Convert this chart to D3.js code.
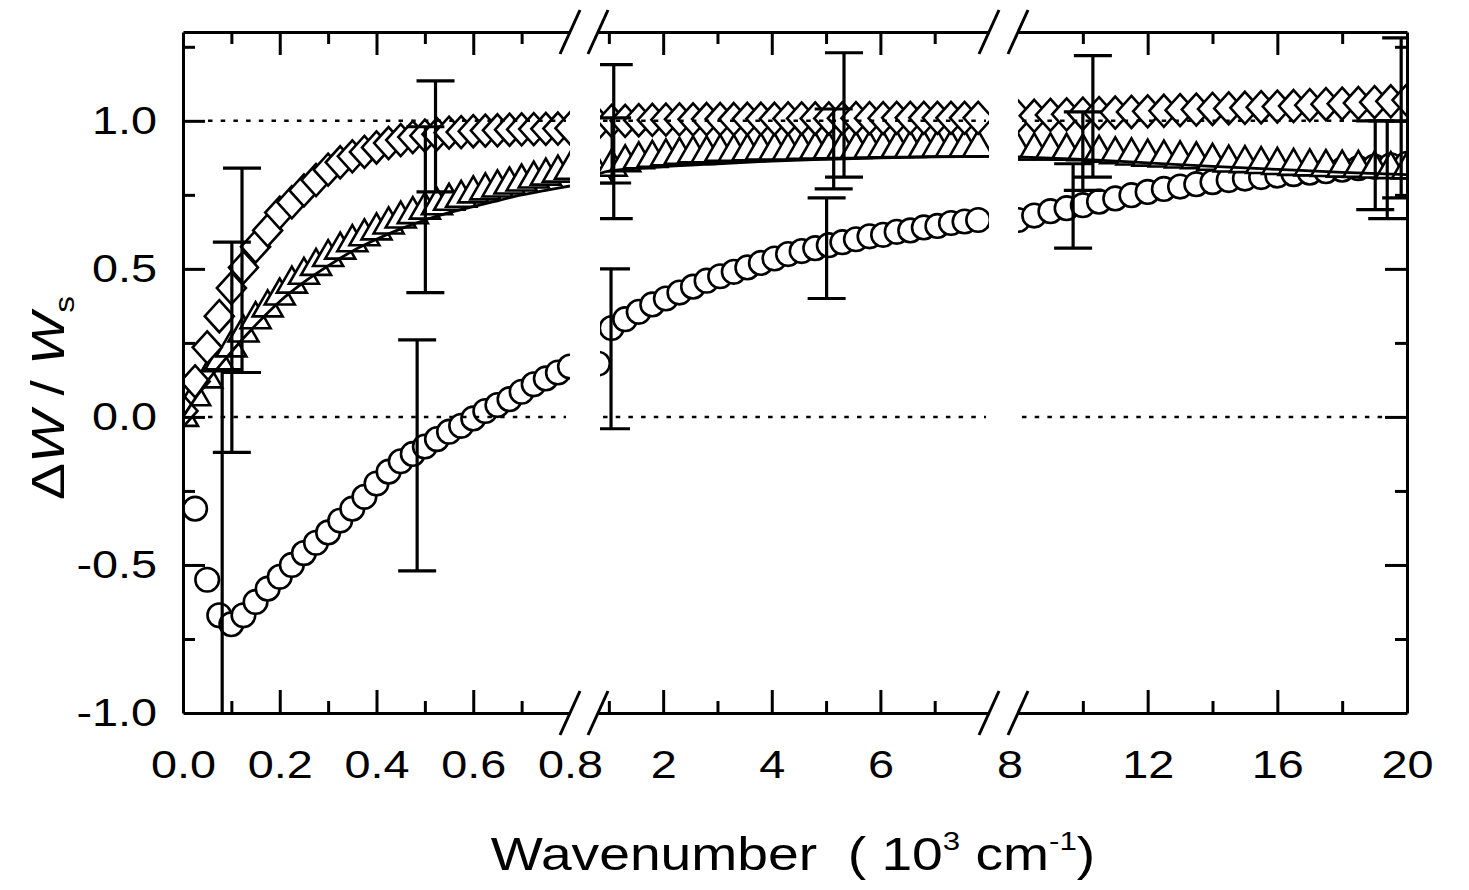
<!DOCTYPE html>
<html lang="en">
<head>
<meta charset="UTF-8">
<title>Wavenumber</title>
<script src="https://d3js.org/d3.v7.min.js"></script>
<style>
  body { margin: 0; padding: 0; background: #fff; }
  text { font-family: "Liberation Sans", Arial, sans-serif; fill: #000; white-space: pre; }
</style>
</head>
<body>
<script>
// ---- data (wavenumber in 10^3 cm^-1, value = dW / Ws) ----
const p1X = [0, 0.025, 0.05, 0.075, 0.1, 0.125, 0.15, 0.175, 0.2, 0.225, 0.25, 0.275, 0.3, 0.325, 0.35, 0.375,
  0.4, 0.425, 0.45, 0.475, 0.5, 0.525, 0.55, 0.575, 0.6, 0.625, 0.65, 0.675, 0.7, 0.725, 0.75, 0.775, 0.8]
const p1Circle = [null, -0.31, -0.55, -0.67, -0.70, -0.67, -0.625, -0.58, -0.54, -0.50, -0.46, -0.425, -0.39, -0.35,
  -0.31, -0.27, -0.225, -0.185, -0.15, -0.125, -0.10, -0.075, -0.05, -0.03, -0.005, 0.02, 0.04, 0.06, 0.085, 0.11,
  0.13, 0.15, 0.17]
const p1Tri = [0.0, 0.07, 0.13, 0.185, 0.235, 0.285, 0.33, 0.37, 0.41, 0.45, 0.48, 0.51, 0.54, 0.565, 0.59, 0.61,
  0.63, 0.65, 0.67, 0.685, 0.70, 0.715, 0.73, 0.74, 0.755, 0.765, 0.775, 0.785, 0.795, 0.805, 0.815, 0.825, 0.835]
const p1Dia = [0.02, 0.12, 0.235, 0.34, 0.435, 0.505, 0.575, 0.63, 0.69, 0.725, 0.765, 0.80, 0.835, 0.86, 0.88, 0.895,
  0.91, 0.925, 0.935, 0.945, 0.95, 0.955, 0.96, 0.962, 0.965, 0.967, 0.968, 0.97, 0.971, 0.972, 0.973, 0.974, 0.975]

const p2X = [0.8, 1.05, 1.3, 1.55, 1.8, 2.05, 2.3, 2.55, 2.8, 3.05, 3.3, 3.55, 3.8, 4.05, 4.3, 4.55, 4.8, 5.05,
  5.3, 5.55, 5.8, 6.05, 6.3, 6.55, 6.8, 7.05, 7.3, 7.55, 7.8]
const p2Circle = [0.18, 0.30, 0.33, 0.355, 0.38, 0.40, 0.42, 0.44, 0.46, 0.475, 0.49, 0.505, 0.52, 0.535, 0.55,
  0.56, 0.57, 0.58, 0.59, 0.60, 0.61, 0.615, 0.625, 0.63, 0.64, 0.645, 0.655, 0.66, 0.665]
const p2Tri = [0.82, 0.845, 0.86, 0.87, 0.875, 0.88, 0.885, 0.89, 0.89, 0.895, 0.895, 0.897, 0.9, 0.9, 0.9, 0.902,
  0.903, 0.904, 0.905, 0.905, 0.906, 0.907, 0.908, 0.908, 0.909, 0.91, 0.91, 0.91, 0.91]
const p2Dia = [0.99, 1.0, 1.0, 1.002, 1.003, 1.004, 1.005, 1.005, 1.006, 1.006, 1.006, 1.007, 1.007, 1.007, 1.008,
  1.008, 1.008, 1.008, 1.009, 1.009, 1.009, 1.009, 1.01, 1.01, 1.01, 1.01, 1.01, 1.01, 1.01]

const p3X = [8, 8.5, 9, 9.5, 10, 10.5, 11, 11.5, 12, 12.5, 13, 13.5, 14, 14.5, 15, 15.5, 16, 16.5, 17, 17.5, 18,
  18.5, 19, 19.5, 20]
const p3Circle = [0.665, 0.68, 0.695, 0.705, 0.715, 0.727, 0.738, 0.749, 0.76, 0.77, 0.778, 0.786, 0.793, 0.80,
  0.805, 0.81, 0.815, 0.82, 0.825, 0.83, 0.835, 0.84, 0.845, 0.85, 0.855]
const p3Tri = [0.90, 0.90, 0.90, 0.899, 0.897, 0.892, 0.887, 0.883, 0.879, 0.876, 0.873, 0.870, 0.865, 0.859, 0.857,
  0.854, 0.851, 0.848, 0.846, 0.844, 0.842, 0.841, 0.839, 0.837, 0.836]
const p3Dia = [1.015, 1.017, 1.02, 1.022, 1.024, 1.026, 1.028, 1.03, 1.032, 1.034, 1.036, 1.038, 1.04, 1.042, 1.044,
  1.046, 1.048, 1.05, 1.053, 1.056, 1.058, 1.06, 1.063, 1.066, 1.07]

// model curve drawn along the triangle series
const fit1X = [0, 0.05, 0.1, 0.15, 0.2, 0.25, 0.3, 0.35, 0.4, 0.45, 0.5, 0.55, 0.6, 0.65, 0.7, 0.75, 0.8]
const fit1Y = [0, 0.12, 0.22, 0.31, 0.39, 0.455, 0.51, 0.56, 0.60, 0.635, 0.665, 0.69, 0.71, 0.73, 0.75, 0.765, 0.78]
const fit2X = [0.8, 1, 2, 3, 4, 5, 6, 7, 8]
const fit2Y = [0.82, 0.83, 0.845, 0.855, 0.864, 0.87, 0.875, 0.878, 0.88]
const fit3X = [8, 10, 12, 14, 16, 18, 20]
const fit3Y = [0.878, 0.87, 0.858, 0.846, 0.836, 0.826, 0.818]

// error bars: x, low, high
const bars1 = [[0.081, -1.5, 0.16], [0.101, -0.12, 0.59], [0.122, 0.15, 0.84],
  [0.484, -0.52, 0.26], [0.501, 0.42, 0.98], [0.522, 0.76, 1.135]]
const bars2 = [[1.04, -0.04, 0.50], [1.06, 0.79, 1.01], [1.09, 0.67, 1.19],
  [5.01, 0.40, 0.74], [5.14, 0.77, 1.04], [5.33, 0.81, 1.23]]
const bars3 = [[9.7, 0.57, 0.855], [10.0, 0.765, 1.03], [10.31, 0.81, 1.22],
  [19.02, 0.70, 1.0], [19.39, 0.67, 1.0], [19.82, 0.74, 1.28]]

// ticks
const yLabelVals = [-1, -0.5, 0, 0.5, 1]
const yMajor = [-0.5, 0, 0.5, 1]
const yMinor = [-0.75, -0.25, 0.25, 0.75, 1.25]
const refLines = [0, 1]

const p1Labels = [0, 0.2, 0.4, 0.6, 0.8]
const p1Major = [0.2, 0.4, 0.6]
const p1Minor = [0.1, 0.3, 0.5, 0.7]
const p2Labels = [2, 4, 6]
const p2Major = [2, 4, 6]
const p2Minor = [1, 3, 5, 7]
const p3Labels = [8, 12, 16, 20]
const p3Major = [12, 16]
const p3Minor = [10, 14, 18]

// ---- layout ----
let width = 1469
let height = 890
let plotTop = 32
let plotBottom = 713
let plotLeft = 183
let plotRight = 1407
let stretch = 1.2   // the lettering in the figure is wider than Arial

let svg = d3.select("body")
  .append("svg")
  .attr("width", width)
  .attr("height", height)

let y = d3.scaleLinear().domain([-1, 1.3]).range([plotBottom, plotTop])

let panels = [
  { x: d3.scaleLinear().domain([0, 0.8]).range([plotLeft, 570]), clipL: plotLeft, clipR: 570,
    dotL: 208, dotR: 566,
    xs: p1X, circle: p1Circle, tri: p1Tri, dia: p1Dia, fitX: fit1X, fitY: fit1Y, bars: bars1,
    labels: p1Labels, major: p1Major, minor: p1Minor, fmt: d => d.toFixed(1) },
  { x: d3.scaleLinear().domain([0.8, 8]).range([598, 989]), clipL: 600, clipR: 989,
    dotL: 603, dotR: 986,
    xs: p2X, circle: p2Circle, tri: p2Tri, dia: p2Dia, fitX: fit2X, fitY: fit2Y, bars: bars2,
    labels: p2Labels, major: p2Major, minor: p2Minor, fmt: d => d },
  { x: d3.scaleLinear().domain([8, 20]).range([1018, plotRight]), clipL: 1018, clipR: plotRight,
    dotL: 1022, dotR: 1384,
    xs: p3X, circle: p3Circle, tri: p3Tri, dia: p3Dia, fitX: fit3X, fitY: fit3Y, bars: bars3,
    labels: p3Labels, major: p3Major, minor: p3Minor, fmt: d => d }
]

// marker shapes (white filled, black outline)
const circlePath = d3.symbol().type(d3.symbolCircle).size(Math.PI * 11.8 * 11.8)()
const triPath = "M0,-17L-15,9L15,9Z"
const diaPath = "M0,-16L14.5,0L0,16L-14.5,0Z"

let defs = svg.append("defs")

panels.forEach((p, i) => {
  defs.append("clipPath")
    .attr("id", "clip" + i)
    .append("rect")
    .attr("x", p.clipL)
    .attr("y", plotTop)
    .attr("width", p.clipR - p.clipL)
    .attr("height", plotBottom - plotTop)

  let g = svg.append("g").attr("clip-path", "url(#clip" + i + ")")

  // markers, drawn left to right so later ones cover earlier ones
  let series = [[p.circle, circlePath], [p.tri, triPath], [p.dia, diaPath]]
  series.forEach(s => {
    g.append("g")
      .selectAll("path")
      .data(p.xs.map((v, k) => [v, s[0][k]]).filter(d => d[1] != null))
      .join("path")
      .attr("d", s[1])
      .attr("transform", d => "translate(" + p.x(d[0]) + "," + y(d[1]) + ")")
      .attr("fill", "white")
      .attr("stroke", "black")
      .attr("stroke-width", 2.6)
  })

  // model curve
  g.append("path")
    .datum(p.fitX.map((v, k) => [v, p.fitY[k]]))
    .attr("fill", "none")
    .attr("stroke", "black")
    .attr("stroke-width", 2.8)
    .attr("d", d3.line().x(d => p.x(d[0])).y(d => y(d[1])).curve(d3.curveMonotoneX))

  // dotted reference lines
  g.selectAll(".ref")
    .data(refLines)
    .join("line")
    .attr("x1", p.dotL)
    .attr("x2", p.dotR)
    .attr("y1", d => y(d))
    .attr("y2", d => y(d))
    .attr("stroke", "black")
    .attr("stroke-width", 2.5)
    .attr("stroke-dasharray", "4.5,8.2")

  // error bars
  let eb = g.append("g")
    .selectAll("g")
    .data(p.bars)
    .join("g")
    .attr("stroke", "black")
    .attr("stroke-width", 3.2)
  eb.append("line")
    .attr("x1", d => p.x(d[0])).attr("x2", d => p.x(d[0]))
    .attr("y1", d => y(d[1])).attr("y2", d => y(d[2]))
  eb.append("line")
    .attr("x1", d => p.x(d[0]) - 19).attr("x2", d => p.x(d[0]) + 19)
    .attr("y1", d => y(d[1])).attr("y2", d => y(d[1]))
  eb.append("line")
    .attr("x1", d => p.x(d[0]) - 19).attr("x2", d => p.x(d[0]) + 19)
    .attr("y1", d => y(d[2])).attr("y2", d => y(d[2]))

  // bottom and top axes of this panel, ticks pointing inward
  let axes = [
    [d3.axisBottom(p.x).tickValues(p.major).tickSize(-23), plotBottom, true],
    [d3.axisBottom(p.x).tickValues(p.minor).tickSize(-12), plotBottom, false],
    [d3.axisTop(p.x).tickValues(p.major).tickSize(-23), plotTop, true],
    [d3.axisTop(p.x).tickValues(p.minor).tickSize(-12), plotTop, false]
  ]
  axes.forEach(a => {
    let ag = svg.append("g")
      .attr("transform", "translate(0," + a[1] + ")")
      .call(a[0].tickSizeOuter(0).tickFormat(""))
    ag.selectAll("line,path").attr("stroke", "black").attr("stroke-width", 3)
    if (!a[2]) ag.select(".domain").remove()
  })

  // tick labels
  let lab = svg.append("g")
    .attr("transform", "translate(0," + plotBottom + ")")
    .call(d3.axisBottom(p.x).tickValues(p.labels).tickSize(0).tickPadding(37).tickFormat(p.fmt))
  lab.select(".domain").remove()
  lab.selectAll("text")
    .attr("font-family", "Liberation Sans, Arial, sans-serif")
    .attr("font-size", 39)
    .attr("fill", "black")
    .attr("dx", d => d === 8 ? -7 : 0)
    .attr("transform", "scale(" + stretch + ",1)")
})

// axis break marks
let breaks = [panels[0].x(0.8), panels[1].x(0.8), panels[1].x(8), panels[2].x(8)]
;[plotTop, plotBottom].forEach(ay => {
  breaks.forEach(bx => {
    svg.append("line")
      .attr("x1", bx - 10)
      .attr("y1", ay + 22)
      .attr("x2", bx + 10)
      .attr("y2", ay - 22)
      .attr("stroke", "black")
      .attr("stroke-width", 3)
  })
})

// y axes left and right
let yAxes = [
  [d3.axisLeft(y).tickValues(yMajor).tickSize(-22), plotLeft, true],
  [d3.axisLeft(y).tickValues(yMinor).tickSize(-12), plotLeft, false],
  [d3.axisRight(y).tickValues(yMajor).tickSize(-22), plotRight, true],
  [d3.axisRight(y).tickValues(yMinor).tickSize(-12), plotRight, false]
]
yAxes.forEach(a => {
  let ag = svg.append("g")
    .attr("transform", "translate(" + a[1] + ",0)")
    .call(a[0].tickSizeOuter(0).tickFormat(""))
  ag.selectAll("line,path").attr("stroke", "black").attr("stroke-width", 3)
  if (!a[2]) ag.select(".domain").remove()
})

let yLab = svg.append("g")
  .attr("transform", "translate(" + plotLeft + ",0)")
  .call(d3.axisLeft(y).tickValues(yLabelVals).tickSize(0).tickPadding(26 / stretch).tickFormat(d => d.toFixed(1)))
yLab.select(".domain").remove()
yLab.selectAll("text")
  .attr("font-family", "Liberation Sans, Arial, sans-serif")
  .attr("font-size", 39)
  .attr("fill", "black")
  .attr("transform", "scale(" + stretch + ",1)")

// axis titles
let xt = svg.append("text")
  .attr("transform", "translate(793,870) scale(" + stretch + ",1)")
  .attr("text-anchor", "middle")
  .attr("font-size", 46)
xt.append("tspan").text("Wavenumber  ( 10")
xt.append("tspan").attr("font-size", 26).attr("dy", -20).text("3")
xt.append("tspan").attr("dy", 20).text(" cm")
xt.append("tspan").attr("font-size", 26).attr("dy", -20).text("-1")
xt.append("tspan").attr("dy", 20).text(")")

let yt = svg.append("text")
  .attr("transform", "translate(64,398) rotate(-90) scale(" + stretch + ",1)")
  .attr("text-anchor", "middle")
  .attr("font-size", 46)
yt.append("tspan").text("\u0394")
yt.append("tspan").attr("font-style", "italic").text("W")
yt.append("tspan").text(" / ")
yt.append("tspan").attr("font-style", "italic").text("W")
yt.append("tspan").attr("font-size", 28).attr("dy", 10).text("s")
</script>
</body>
</html>
